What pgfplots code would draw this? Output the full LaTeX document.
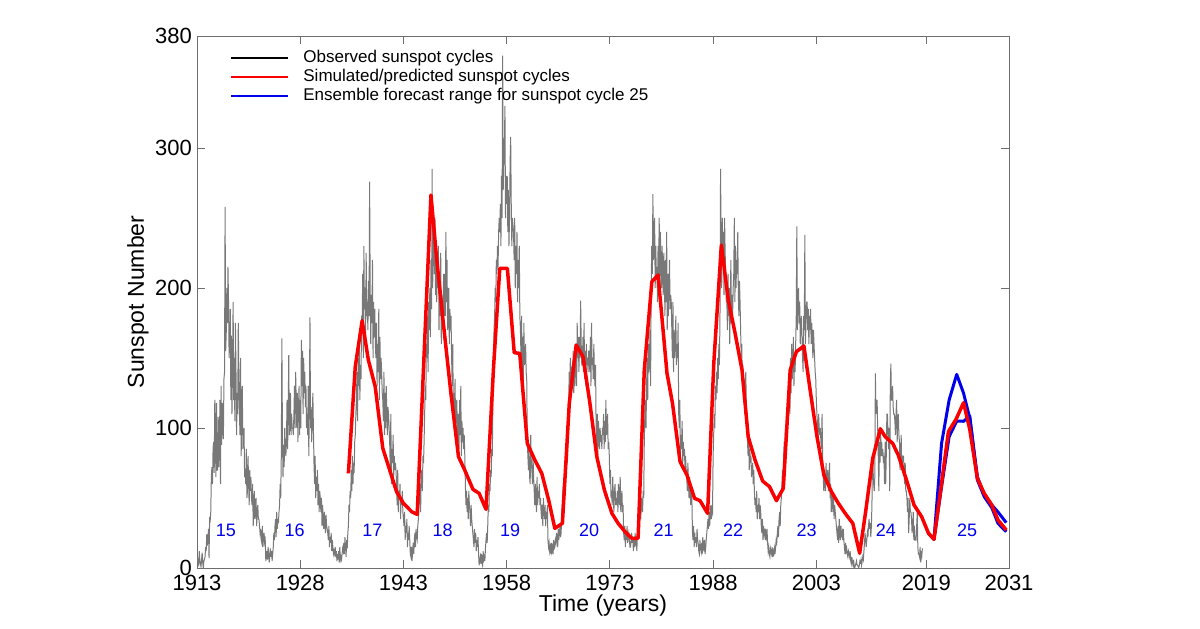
\documentclass[border=0pt]{standalone}
\usepackage{fontspec}
\setmainfont{Liberation Sans}
\usepackage{pgfplots}
\usepackage{pgfplotstable}
\pgfplotsset{compat=1.18}
\definecolor{obsgray}{RGB}{120,120,120}
\definecolor{simred}{RGB}{250,0,0}
\definecolor{ensblue}{RGB}{0,0,235}
\definecolor{framegray}{RGB}{110,110,110}

% Monthly observed sunspot numbers, Jan 1913 onward (one line per year)
\pgfplotstableread[row sep=\\, header=false]{
4\\ 8\\ 3\\ 2\\ 12\\ 5\\ 3\\ 1\\ 6\\ 11\\ 4\\ 0\\
5\\ 6\\ 8\\ 15\\ 12\\ 24\\ 16\\ 20\\ 28\\ 7\\ 35\\ 34\\
40\\ 65\\ 72\\ 60\\ 85\\ 90\\ 68\\ 120\\ 96\\ 65\\ 118\\ 70\\
70\\ 108\\ 72\\ 85\\ 120\\ 60\\ 130\\ 88\\ 118\\ 105\\ 92\\ 135\\
140\\ 258\\ 155\\ 168\\ 200\\ 175\\ 215\\ 190\\ 150\\ 165\\ 185\\ 120\\
166\\ 110\\ 150\\ 190\\ 120\\ 150\\ 105\\ 175\\ 140\\ 95\\ 125\\ 110\\
175\\ 140\\ 110\\ 95\\ 150\\ 80\\ 105\\ 130\\ 85\\ 90\\ 100\\ 65\\
70\\ 60\\ 85\\ 50\\ 55\\ 80\\ 60\\ 45\\ 70\\ 55\\ 65\\ 50\\
45\\ 60\\ 30\\ 40\\ 55\\ 35\\ 45\\ 50\\ 30\\ 40\\ 45\\ 35\\
35\\ 30\\ 25\\ 28\\ 20\\ 18\\ 30\\ 15\\ 22\\ 25\\ 18\\ 20\\
5\\ 8\\ 12\\ 6\\ 15\\ 10\\ 4\\ 9\\ 14\\ 8\\ 12\\ 5\\
10\\ 15\\ 25\\ 20\\ 30\\ 35\\ 22\\ 40\\ 28\\ 35\\ 32\\ 40\\
45\\ 60\\ 50\\ 80\\ 164\\ 95\\ 65\\ 88\\ 72\\ 100\\ 85\\ 80\\
90\\ 120\\ 85\\ 110\\ 152\\ 95\\ 105\\ 125\\ 95\\ 110\\ 100\\ 100\\
95\\ 110\\ 130\\ 100\\ 140\\ 120\\ 100\\ 125\\ 90\\ 115\\ 130\\ 95\\
120\\ 100\\ 163\\ 130\\ 155\\ 110\\ 150\\ 125\\ 140\\ 115\\ 130\\ 100\\
110\\ 95\\ 130\\ 80\\ 120\\ 179\\ 100\\ 115\\ 90\\ 105\\ 125\\ 100\\
75\\ 60\\ 80\\ 50\\ 65\\ 55\\ 70\\ 45\\ 60\\ 40\\ 55\\ 50\\
40\\ 50\\ 30\\ 45\\ 35\\ 28\\ 40\\ 32\\ 25\\ 38\\ 30\\ 28\\
25\\ 20\\ 30\\ 15\\ 22\\ 18\\ 25\\ 12\\ 20\\ 15\\ 10\\ 12\\
10\\ 15\\ 8\\ 12\\ 5\\ 10\\ 6\\ 12\\ 4\\ 15\\ 6\\ 8\\
6\\ 10\\ 14\\ 12\\ 18\\ 10\\ 22\\ 15\\ 8\\ 20\\ 14\\ 25\\
30\\ 45\\ 40\\ 55\\ 50\\ 70\\ 55\\ 80\\ 60\\ 75\\ 68\\ 90\\
95\\ 110\\ 120\\ 140\\ 105\\ 150\\ 130\\ 160\\ 120\\ 145\\ 135\\ 180\\
175\\ 210\\ 150\\ 230\\ 185\\ 200\\ 160\\ 225\\ 180\\ 190\\ 170\\ 205\\
180\\ 276\\ 200\\ 160\\ 195\\ 175\\ 220\\ 150\\ 190\\ 165\\ 185\\ 160\\
150\\ 175\\ 130\\ 160\\ 140\\ 185\\ 120\\ 165\\ 135\\ 150\\ 140\\ 125\\
120\\ 105\\ 140\\ 95\\ 125\\ 100\\ 130\\ 110\\ 95\\ 115\\ 110\\ 100\\
90\\ 70\\ 110\\ 60\\ 85\\ 75\\ 95\\ 65\\ 80\\ 70\\ 75\\ 70\\
60\\ 45\\ 70\\ 40\\ 55\\ 50\\ 60\\ 35\\ 50\\ 45\\ 55\\ 40\\
35\\ 30\\ 40\\ 20\\ 30\\ 25\\ 35\\ 15\\ 25\\ 20\\ 30\\ 20\\
10\\ 8\\ 15\\ 5\\ 12\\ 18\\ 10\\ 20\\ 25\\ 15\\ 28\\ 22\\
20\\ 30\\ 35\\ 45\\ 50\\ 60\\ 40\\ 70\\ 65\\ 55\\ 80\\ 75\\
90\\ 110\\ 130\\ 120\\ 160\\ 150\\ 180\\ 140\\ 190\\ 170\\ 200\\ 165\\
220\\ 185\\ 285\\ 200\\ 240\\ 230\\ 210\\ 250\\ 195\\ 225\\ 190\\ 215\\
200\\ 230\\ 170\\ 210\\ 180\\ 225\\ 160\\ 195\\ 185\\ 175\\ 210\\ 180\\
210\\ 180\\ 240\\ 190\\ 220\\ 170\\ 175\\ 200\\ 160\\ 185\\ 170\\ 180\\
150\\ 130\\ 160\\ 110\\ 125\\ 105\\ 135\\ 95\\ 110\\ 120\\ 100\\ 90\\
110\\ 85\\ 120\\ 95\\ 130\\ 80\\ 105\\ 90\\ 100\\ 85\\ 95\\ 80\\
60\\ 45\\ 55\\ 40\\ 50\\ 35\\ 55\\ 45\\ 40\\ 30\\ 45\\ 35\\
30\\ 25\\ 20\\ 15\\ 28\\ 18\\ 25\\ 12\\ 20\\ 15\\ 22\\ 10\\
2\\ 5\\ 8\\ 3\\ 10\\ 4\\ 2\\ 12\\ 6\\ 8\\ 5\\ 14\\
20\\ 25\\ 18\\ 30\\ 45\\ 40\\ 60\\ 55\\ 70\\ 65\\ 85\\ 80\\
120\\ 150\\ 170\\ 180\\ 200\\ 190\\ 220\\ 210\\ 230\\ 215\\ 240\\ 250\\
240\\ 260\\ 230\\ 280\\ 250\\ 366\\ 270\\ 290\\ 300\\ 330\\ 250\\ 280\\
260\\ 280\\ 240\\ 270\\ 230\\ 250\\ 290\\ 308\\ 260\\ 230\\ 250\\ 245\\
240\\ 220\\ 250\\ 200\\ 230\\ 210\\ 240\\ 190\\ 220\\ 200\\ 230\\ 180\\
170\\ 150\\ 180\\ 140\\ 165\\ 130\\ 175\\ 145\\ 150\\ 160\\ 140\\ 135\\
90\\ 80\\ 70\\ 85\\ 65\\ 60\\ 95\\ 75\\ 70\\ 60\\ 80\\ 65\\
55\\ 45\\ 60\\ 50\\ 40\\ 65\\ 45\\ 55\\ 50\\ 60\\ 45\\ 50\\
40\\ 35\\ 45\\ 30\\ 50\\ 40\\ 35\\ 45\\ 30\\ 40\\ 35\\ 45\\
20\\ 15\\ 18\\ 12\\ 15\\ 10\\ 18\\ 12\\ 15\\ 10\\ 20\\ 14\\
15\\ 20\\ 18\\ 25\\ 22\\ 15\\ 28\\ 20\\ 25\\ 30\\ 22\\ 25\\
40\\ 45\\ 55\\ 60\\ 65\\ 50\\ 75\\ 70\\ 85\\ 80\\ 75\\ 100\\
110\\ 140\\ 120\\ 150\\ 130\\ 125\\ 145\\ 135\\ 155\\ 125\\ 140\\ 130\\
140\\ 160\\ 130\\ 175\\ 150\\ 165\\ 140\\ 165\\ 150\\ 191\\ 160\\ 145\\
145\\ 165\\ 140\\ 175\\ 135\\ 155\\ 130\\ 160\\ 145\\ 150\\ 140\\ 155\\
155\\ 140\\ 165\\ 130\\ 175\\ 145\\ 150\\ 135\\ 160\\ 140\\ 130\\ 145\\
100\\ 90\\ 110\\ 80\\ 105\\ 95\\ 85\\ 100\\ 90\\ 95\\ 85\\ 100\\
95\\ 110\\ 85\\ 105\\ 90\\ 120\\ 95\\ 100\\ 110\\ 85\\ 90\\ 80\\
60\\ 70\\ 50\\ 55\\ 45\\ 65\\ 50\\ 40\\ 55\\ 60\\ 45\\ 50\\
45\\ 55\\ 40\\ 60\\ 50\\ 45\\ 65\\ 40\\ 50\\ 55\\ 40\\ 45\\
25\\ 20\\ 30\\ 15\\ 25\\ 20\\ 30\\ 18\\ 22\\ 25\\ 20\\ 15\\
15\\ 20\\ 25\\ 18\\ 22\\ 12\\ 20\\ 15\\ 25\\ 18\\ 20\\ 12\\
25\\ 30\\ 35\\ 28\\ 40\\ 45\\ 35\\ 50\\ 45\\ 40\\ 55\\ 50\\
90\\ 110\\ 120\\ 100\\ 130\\ 150\\ 120\\ 160\\ 140\\ 150\\ 170\\ 130\\
200\\ 230\\ 210\\ 267\\ 220\\ 240\\ 250\\ 200\\ 230\\ 210\\ 215\\ 190\\
230\\ 210\\ 250\\ 200\\ 240\\ 220\\ 200\\ 230\\ 215\\ 195\\ 225\\ 210\\
180\\ 220\\ 190\\ 240\\ 170\\ 210\\ 180\\ 200\\ 220\\ 185\\ 195\\ 190\\
170\\ 150\\ 190\\ 140\\ 170\\ 150\\ 160\\ 180\\ 145\\ 160\\ 150\\ 175\\
110\\ 100\\ 120\\ 80\\ 95\\ 85\\ 105\\ 75\\ 90\\ 80\\ 85\\ 70\\
80\\ 70\\ 65\\ 55\\ 75\\ 60\\ 50\\ 65\\ 55\\ 45\\ 60\\ 50\\
25\\ 20\\ 30\\ 15\\ 25\\ 18\\ 22\\ 15\\ 28\\ 20\\ 18\\ 12\\
10\\ 20\\ 15\\ 12\\ 18\\ 10\\ 22\\ 15\\ 12\\ 20\\ 10\\ 14\\
20\\ 25\\ 30\\ 35\\ 28\\ 40\\ 30\\ 38\\ 45\\ 35\\ 42\\ 40\\
80\\ 95\\ 110\\ 100\\ 130\\ 120\\ 140\\ 125\\ 150\\ 135\\ 160\\ 145\\
180\\ 285\\ 230\\ 200\\ 250\\ 220\\ 240\\ 195\\ 250\\ 225\\ 210\\ 190\\
190\\ 170\\ 210\\ 180\\ 200\\ 160\\ 190\\ 220\\ 175\\ 195\\ 180\\ 200\\
210\\ 250\\ 190\\ 230\\ 200\\ 220\\ 210\\ 240\\ 195\\ 180\\ 205\\ 190\\
170\\ 150\\ 160\\ 130\\ 145\\ 120\\ 135\\ 110\\ 125\\ 140\\ 115\\ 100\\
90\\ 80\\ 95\\ 70\\ 85\\ 75\\ 80\\ 65\\ 70\\ 75\\ 60\\ 70\\
55\\ 45\\ 50\\ 40\\ 55\\ 35\\ 45\\ 40\\ 50\\ 35\\ 45\\ 40\\
30\\ 25\\ 35\\ 20\\ 30\\ 25\\ 28\\ 20\\ 25\\ 22\\ 28\\ 18\\
12\\ 15\\ 10\\ 8\\ 14\\ 12\\ 10\\ 15\\ 8\\ 12\\ 10\\ 14\\
10\\ 15\\ 20\\ 18\\ 25\\ 30\\ 22\\ 35\\ 40\\ 30\\ 45\\ 50\\
60\\ 70\\ 65\\ 80\\ 90\\ 85\\ 100\\ 95\\ 110\\ 90\\ 120\\ 105\\
120\\ 140\\ 110\\ 150\\ 125\\ 160\\ 135\\ 145\\ 165\\ 130\\ 150\\ 140\\
160\\ 180\\ 244\\ 170\\ 190\\ 200\\ 175\\ 190\\ 160\\ 175\\ 180\\ 165\\
150\\ 140\\ 180\\ 170\\ 238\\ 160\\ 175\\ 190\\ 190\\ 170\\ 185\\ 160\\
180\\ 170\\ 185\\ 160\\ 175\\ 165\\ 150\\ 170\\ 160\\ 150\\ 140\\ 135\\
120\\ 110\\ 100\\ 90\\ 110\\ 100\\ 95\\ 100\\ 90\\ 85\\ 110\\ 80\\
65\\ 55\\ 70\\ 60\\ 55\\ 75\\ 60\\ 65\\ 70\\ 55\\ 60\\ 75\\
50\\ 60\\ 40\\ 45\\ 55\\ 40\\ 50\\ 35\\ 45\\ 40\\ 35\\ 30\\
25\\ 20\\ 30\\ 18\\ 35\\ 25\\ 20\\ 30\\ 22\\ 25\\ 20\\ 28\\
20\\ 15\\ 10\\ 18\\ 12\\ 14\\ 10\\ 8\\ 12\\ 10\\ 8\\ 12\\
5\\ 3\\ 8\\ 4\\ 2\\ 6\\ 1\\ 0\\ 2\\ 3\\ 5\\ 2\\
2\\ 1\\ 0\\ 2\\ 5\\ 4\\ 6\\ 2\\ 5\\ 8\\ 6\\ 12\\
18\\ 25\\ 20\\ 15\\ 20\\ 25\\ 22\\ 30\\ 35\\ 28\\ 32\\ 22\\
30\\ 45\\ 80\\ 70\\ 60\\ 55\\ 65\\ 139\\ 110\\ 115\\ 120\\ 100\\
80\\ 55\\ 90\\ 75\\ 100\\ 80\\ 90\\ 80\\ 85\\ 75\\ 80\\ 60\\
90\\ 60\\ 80\\ 110\\ 110\\ 95\\ 85\\ 100\\ 55\\ 130\\ 146\\ 120\\
120\\ 130\\ 115\\ 110\\ 110\\ 105\\ 95\\ 110\\ 120\\ 90\\ 105\\ 110\\
95\\ 90\\ 70\\ 80\\ 95\\ 70\\ 75\\ 80\\ 80\\ 70\\ 60\\ 75\\
55\\ 55\\ 50\\ 40\\ 50\\ 25\\ 35\\ 50\\ 40\\ 40\\ 35\\ 25\\
30\\ 40\\ 20\\ 30\\ 20\\ 20\\ 20\\ 30\\ 40\\ 15\\ 10\\ 10\\
8\\ 15\\ 4\\ 12\\ 9\\ 14\\
}\obsdata

\begin{document}
\begin{tikzpicture}
\path[use as bounding box] (0pt,0pt) rectangle (600pt,314pt);
\begin{axis}[
  at={(98.5pt,30pt)}, anchor=south west,
  scale only axis, width=406pt, height=266pt,
  xmin=1913, xmax=2031, ymin=0, ymax=380,
  xtick={1913,1928,1943,1958,1973,1988,2003,2019,2031},
  ytick={0,100,200,300,380},
  /pgf/number format/.cd, 1000 sep={}, assume math mode=true, /pgfplots/.cd,
  tick align=inside, major tick length=4pt,
  axis line style={framegray, line width=0.5pt},
  tick style={framegray, line width=0.5pt},
  tick label style={font=\fontsize{11}{13}\selectfont, black},
  y tick label style={xshift=1pt},
  xlabel={Time (years)}, ylabel={Sunspot Number},
  label style={font=\fontsize{11.5}{13}\selectfont},
  xlabel style={at={(axis description cs:0.5,0)}, anchor=center, yshift=-19pt},
  ylabel style={at={(axis description cs:-0.0727,0.5)}, anchor=center},
  clip=true,
  legend image code/.code={\draw[#1] (0pt,0pt) -- (28.5pt,0pt); \path (32.5pt,0pt);},
  legend cell align=left,
  legend style={at={(rel axis cs:0,1)}, anchor=north west, xshift=16.5pt, yshift=-6.25pt,
    draw=none, fill=none, inner sep=0pt, row sep=0pt,
    font=\fontsize{8.5}{10}\selectfont,
    nodes={inner ysep=0.35pt, inner xsep=3pt, text height=6.6pt, text depth=2.2pt}},
]
\addlegendimage{black, line width=1pt}
\addlegendentry{Observed sunspot cycles}
\addlegendimage{simred, line width=1pt}
\addlegendentry{Simulated/predicted sunspot cycles}
\addlegendimage{ensblue, line width=1pt}
\addlegendentry{Ensemble forecast range for sunspot cycle 25}

\addplot[obsgray, line width=0.5pt, forget plot] table[x expr=1913+\coordindex/12, y index=0] {\obsdata};

\addplot[ensblue, line width=1.5pt, line join=round, forget plot] coordinates {
(2019.3,24.8) (2020.1,20.5) (2021.2,89) (2022.3,120) (2023.4,138.3) (2024.4,124.8)
(2025.3,106.9) (2026.4,65.2) (2027.4,52) (2028.5,45) (2029.4,40) (2030.6,32.4)};
\addplot[ensblue, line width=1.5pt, line join=round, forget plot] coordinates {
(2019.3,24.8) (2020.1,20.5) (2021.2,58) (2022.3,93.8) (2023.4,105) (2024.4,104.8)
(2025.3,108.6) (2026.4,62.9) (2027.4,51) (2028.5,43) (2029.4,31.9) (2030.6,25.9)};

\addplot[simred, line width=1.75pt, line join=round, forget plot] coordinates {
(1935.0,67.6) (1936.0,143.8) (1937.0,176.7) (1937.9,148.6) (1938.9,129.5) (1940.0,85.5)
(1941.0,70) (1942.0,54.5) (1943.0,46.2) (1944.2,40.2) (1945.0,38.3)
(1947.0,266.4) (1947.8,222.4) (1948.8,174.8) (1949.9,124.8) (1951.0,79.5) (1951.9,70)
(1953.1,56.2) (1954.0,53.3) (1955.0,41.9)
(1956.1,143.8) (1957.0,214.1) (1958.1,214.1) (1959.1,153.8) (1959.9,153.3) (1961.0,89)
(1962.1,77.1) (1963.1,67.6) (1964.1,48.6) (1965.0,28.3) (1966.1,31.9)
(1967.1,117.6) (1968.1,159.3) (1969.1,150.9) (1970.1,117.6) (1971.1,79.5) (1972.2,55.7)
(1973.3,39) (1974.2,31.9) (1975.2,25.9) (1976.2,21.2) (1977.1,21.2)
(1978.0,141.4) (1979.1,204.5) (1980.0,209.3) (1981.3,139.1) (1982.1,117.6) (1983.2,75.9)
(1984.2,66.4) (1985.3,49.8) (1986.1,48.1) (1987.2,39)
(1988.1,146.2) (1989.2,230.7) (1990.2,191.4) (1991.2,167.6) (1992.2,141.4) (1993.1,93.8)
(1994.1,77.1) (1995.2,62.1) (1996.2,58.1) (1997.2,48.1) (1998.2,56.9)
(1999.2,141.4) (2000.1,154.5) (2001.2,158.6) (2002.1,127.1) (2003.1,93.8) (2004.1,66.4)
(2005.2,54.5) (2006.2,46.2) (2007.3,38.3) (2008.3,31.9) (2009.3,10.5)
(2010.2,41.4) (2011.2,78.3) (2012.3,99.5) (2013.0,93.8) (2014.1,89) (2014.9,80.7)
(2016.1,62.9) (2017.2,45) (2018.3,36.7) (2019.3,24.8) (2020.1,20.5)
(2021.2,60.5) (2022.2,97.4) (2023.3,106.2) (2024.4,118.1) (2025.3,99) (2026.4,64)
(2027.4,53.3) (2028.5,45) (2029.4,34.3) (2030.6,27.1)};

\begin{scope}[every node/.style={font=\fontsize{9}{10}\selectfont, text=ensblue}]
\node at (axis cs:1917.2,27) {15};
\node at (axis cs:1927.2,27) {16};
\node at (axis cs:1938.5,27) {17};
\node at (axis cs:1948.7,27) {18};
\node at (axis cs:1958.5,27) {19};
\node at (axis cs:1970.0,27) {20};
\node at (axis cs:1980.8,27) {21};
\node at (axis cs:1990.9,27) {22};
\node at (axis cs:2001.6,27) {23};
\node at (axis cs:2013.1,27) {24};
\node at (axis cs:2024.9,27) {25};
\end{scope}
\end{axis}
\end{tikzpicture}
\end{document}
